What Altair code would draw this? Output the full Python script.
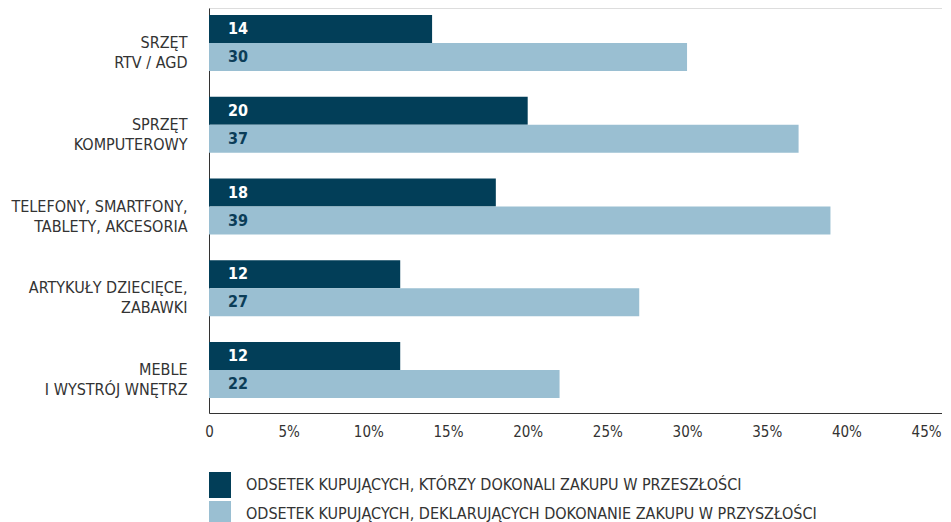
import altair as alt
import pandas as pd

categories = ["SRZĘT|RTV / AGD", "SPRZĘT|KOMPUTEROWY", "TELEFONY, SMARTFONY,|TABLETY, AKCESORIA",
              "ARTYKUŁY DZIECIĘCE,|ZABAWKI", "MEBLE|I WYSTRÓJ WNĘTRZ"]
series = ["ODSETEK KUPUJĄCYCH, KTÓRZY DOKONALI ZAKUPU W PRZESZŁOŚCI",
          "ODSETEK KUPUJĄCYCH, DEKLARUJĄCYCH DOKONANIE ZAKUPU W PRZYSZŁOŚCI"]
past = [14, 20, 18, 12, 12]
future = [30, 37, 39, 27, 22]
x_ticks = [0, 5, 10, 15, 20, 25, 30, 35, 40, 45]

rows = []
for c, p, f in zip(categories, past, future):
    rows.append({"cat": c, "series": series[0], "value": p})
    rows.append({"cat": c, "series": series[1], "value": f})
df = pd.DataFrame(rows)

FONT = "DejaVu Sans Condensed"
DARK = "#023e58"
LIGHT = "#9abfd2"

y_enc = alt.Y("cat:N", sort=categories,
              scale=alt.Scale(paddingInner=0.315, paddingOuter=0.135, align=0.32),
              axis=alt.Axis(title=None, labelExpr="split(datum.label, '|')", labelFontSize=16,
                            labelLineHeight=20, labelPadding=22, ticks=False, labelColor="#333333",
                            domainColor="#333333", labelFont=FONT, labelLimit=300))
yoff = alt.YOffset("series:N", sort=series, scale=alt.Scale(paddingInner=0, paddingOuter=0))

bars = alt.Chart(df).mark_bar().encode(
    x=alt.X("value:Q", scale=alt.Scale(domain=[0, 46], nice=False),
            axis=alt.Axis(title=None, values=x_ticks, ticks=False, grid=False, labelFlush=False,
                          labelExpr="datum.value == 0 ? '0' : datum.value + '%'",
                          labelFontSize=15, labelPadding=11, labelColor="#333333",
                          domainColor="#333333", labelFont=FONT)),
    y=y_enc,
    yOffset=yoff,
    color=alt.Color("series:N", sort=series,
                    scale=alt.Scale(domain=series, range=[DARK, LIGHT]),
                    legend=alt.Legend(title=None, orient="none", legendX=0, legendY=466,
                                      symbolType="M-1,-1.18H1V1.18H-1Z", symbolSize=484,
                                      symbolStrokeWidth=0, symbolOpacity=1,
                                      labelFontSize=16, labelFont=FONT, labelColor="#333333",
                                      labelLimit=800, rowPadding=3, labelOffset=15,
                                      direction="vertical")),
)

text = alt.Chart(df).mark_text(align="left", dx=19, fontWeight="bold", fontSize=16, font=FONT).encode(
    x=alt.datum(0),
    y=alt.Y("cat:N", sort=categories),
    yOffset=yoff,
    text=alt.Text("value:Q"),
    color=alt.Color("series:N", sort=series,
                    scale=alt.Scale(domain=series, range=["#ffffff", "#0b3d58"]), legend=None),
)

chart = alt.layer(bars, text).resolve_scale(color="independent").properties(
    width=733, height=405, padding={"left": 2, "top": 0, "right": 0, "bottom": 0}
).configure_view(stroke=None).configure(font=FONT)

chart.save("out.html", embed_options={"renderer": "svg", "actions": False})
